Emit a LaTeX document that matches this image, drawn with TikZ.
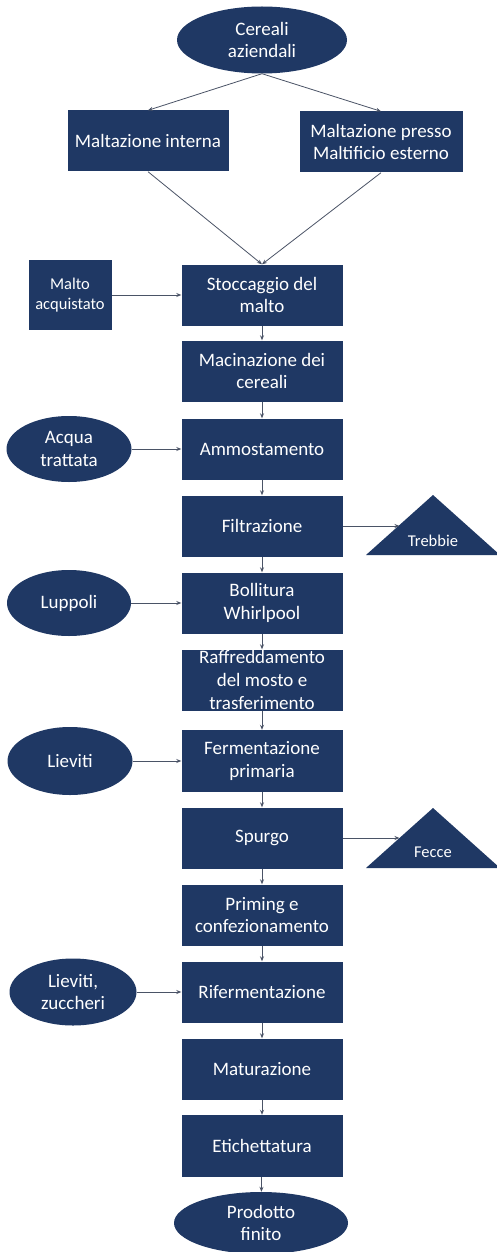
\documentclass[tikz,border=0pt]{standalone}
\usepackage{fontspec}
\setmainfont{Carlito}
\usetikzlibrary{arrows.meta,shapes.geometric}
\definecolor{navy}{HTML}{1F3864}
\definecolor{arr}{HTML}{4A5366}
\begin{document}
\begin{tikzpicture}[x=1pt,y=-1pt,
  proc/.style={rectangle,fill=navy,text=white,minimum width=161pt,minimum height=61pt,inner sep=0pt,align=center,font=\fontsize{19}{22.7}\selectfont},
  src/.style={ellipse,fill=navy,text=white,inner sep=0pt,align=center,font=\fontsize{19}{22.7}\selectfont},
  waste/.style={fill=navy},
  small/.style={font=\fontsize{16.5}{20}\selectfont},
  conn/.style={draw=arr,line width=0.8pt,-{Stealth[length=5pt,width=4pt]}}]
\useasboundingbox[fill=white] (0,0) rectangle (497,1252);

% nodes
\node[src,minimum width=170pt,minimum height=67pt] (cer) at (262,40) {Cereali\\aziendali};
\node[proc] (mi) at (148,141) {Maltazione interna};
\node[proc,minimum width=163pt] (mp) at (381,142) {Maltazione presso\\Maltificio esterno};
\node[proc] (sto) at (262,295) {Stoccaggio del\\malto};
\node[proc,small,minimum width=83pt,minimum height=70pt] (ma) at (70,295) {Malto\\acquistato};
\node[proc] (mac) at (262,371) {Macinazione dei\\cereali};
\node[proc] (amm) at (262,449) {Ammostamento};
\node[src,minimum width=125pt,minimum height=66pt] (acq) at (69,449) {Acqua\\trattata};
\node[proc] (fil) at (262,526) {Filtrazione};
\fill[waste] (366,555) -- (433,495) -- (500,555) -- cycle;
\node[text=white,small] (treb) at (433,541) {Trebbie};
\coordinate (trebL) at (399.5,526);
\node[proc] (bol) at (262,603) {Bollitura\\Whirlpool};
\node[src,minimum width=124pt,minimum height=66pt] (lup) at (69,603) {Luppoli};
\node[proc] (raf) at (262,680) {Raffreddamento\\del mosto e\\trasferimento};
\node[proc,minimum height=62pt] (fer) at (262,761) {Fermentazione\\primaria};
\node[src,minimum width=125pt,minimum height=68pt] (lie) at (70,761) {Lieviti};
\node[proc] (spu) at (262,838) {Spurgo};
\fill[waste] (366,868) -- (433,808) -- (500,868) -- cycle;
\node[text=white,small] (fec) at (433,852) {Fecce};
\coordinate (fecL) at (399.5,838);
\node[proc] (pri) at (262,915) {Priming e\\confezionamento};
\node[proc] (rif) at (262,992) {Rifermentazione};
\node[src,minimum width=127pt,minimum height=67pt] (luz) at (73,992) {Lieviti,\\zuccheri};
\node[proc] (mat) at (262,1069) {Maturazione};
\node[proc,minimum height=62pt] (eti) at (262,1146) {Etichettatura};
\node[src,minimum width=174pt,minimum height=62pt] (pro) at (261,1223) {Prodotto\\finito};

% connectors
\draw[conn] (cer.south) -- (mi.north);
\draw[conn] (cer.south) -- (mp.north);
\draw[conn] (mi.south) -- (sto.north);
\draw[conn] (mp.south) -- (sto.north);
\draw[conn] (ma.east) -- (sto.west);
\draw[conn] (sto) -- (mac);
\draw[conn] (mac) -- (amm);
\draw[conn] (acq.east) -- (amm.west);
\draw[conn] (amm) -- (fil);
\draw[conn] (fil.east) -- (trebL);
\draw[conn] (fil) -- (bol);
\draw[conn] (lup.east) -- (bol.west);
\draw[conn] (bol) -- (raf);
\draw[conn] (raf) -- (fer);
\draw[conn] (lie.east) -- (fer.west);
\draw[conn] (fer) -- (spu);
\draw[conn] (spu.east) -- (fecL);
\draw[conn] (spu) -- (pri);
\draw[conn] (pri) -- (rif);
\draw[conn] (luz.east) -- (rif.west);
\draw[conn] (rif) -- (mat);
\draw[conn] (mat) -- (eti);
\draw[conn] (eti) -- (pro);
\end{tikzpicture}
\end{document}
